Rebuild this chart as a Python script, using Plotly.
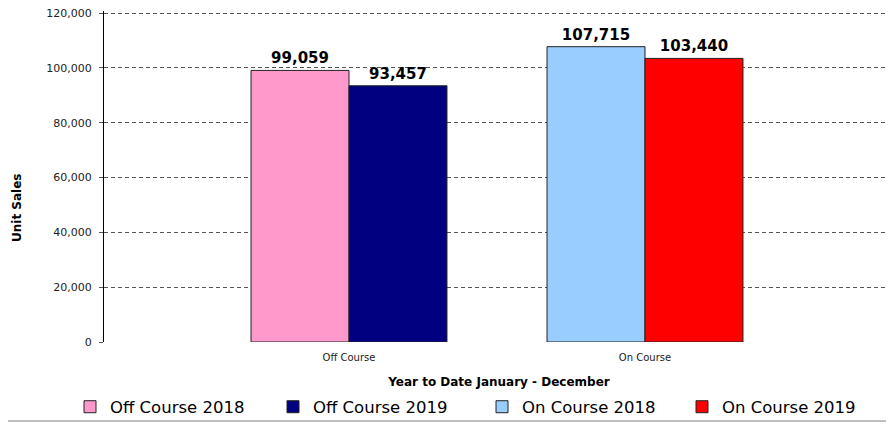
import plotly.graph_objects as go

categories = ["Off Course", "On Course"]
series_names = ["Off Course 2018", "Off Course 2019", "On Course 2018", "On Course 2019"]
series_values = [
    [99059, None],
    [93457, None],
    [None, 107715],
    [None, 103440],
]
series_colors = ["#FF99CC", "#000080", "#99CCFF", "#FF0000"]
y_ticks = [0, 20000, 40000, 60000, 80000, 100000, 120000]
y_ticktext = ["0", "20,000", "40,000", "60,000", "80,000", "100,000", "120,000"]

# the page body has an 8px margin; the figure is sized to fill the rest of the window
OFF = 8
W, H = 894 - OFF, 425 - OFF
# plot area edges in window pixels (top edge 2px above the 120,000 line)
PL, PR, PT, PB = 104, 894, 11, 342
L, R, T, B = PL - OFF, 894 - PR, PT - OFF, 425 - PB
pw, ph = PR - PL, PB - PT
Y_TOP = 120000 * ph / (ph - 2)

def px_x(p):
    return (p - PL) / pw

def px_y(p):
    return (PB - p) / ph

fig = go.Figure()
legend_names = ["legend", "legend2", "legend3", "legend4"]
legend_text_px = [110, 313, 522, 722]
for i, (name, vals, col) in enumerate(zip(series_names, series_values, series_colors)):
    xs = [c for c, v in zip(categories, vals) if v is not None]
    ys = [v for v in vals if v is not None]
    fig.add_trace(go.Bar(
        x=xs, y=ys, name=name,
        marker=dict(color=col, line=dict(color="#222222", width=1)),
        text=[f"{v:,}" for v in ys], textposition="outside",
        textfont=dict(family="DejaVu Sans", size=15, color="black", weight="bold"),
        cliponaxis=False,
        offsetgroup=str(i % 2),
        legend=legend_names[i],
    ))

layout_legends = {}
for i, ln in enumerate(legend_names):
    layout_legends[ln] = dict(
        x=px_x(legend_text_px[i] - 40), y=px_y(407), xanchor="left", yanchor="middle",
        orientation="h", font=dict(family="DejaVu Sans", size=16.5, color="black"),
        bgcolor="rgba(0,0,0,0)", itemwidth=30, tracegroupgap=0,
    )

fig.update_layout(
    width=W, height=H,
    margin=dict(l=L, r=R, t=T, b=B, autoexpand=False),
    paper_bgcolor="white", plot_bgcolor="white",
    barmode="group", bargap=0.338, bargroupgap=0,
    showlegend=True,
    font=dict(family="DejaVu Sans", color="black"),
    **layout_legends,
)
fig.update_xaxes(
    type="category", categoryorder="array", categoryarray=categories,
    range=[(PL - 349) / 296, (PR - 349) / 296],
    showgrid=False, showline=False, ticks="", ticklabelstandoff=8,
    tickfont=dict(family="DejaVu Sans", size=10, color="#222222"),
    title=dict(text="<b>Year to Date January - December</b>",
               font=dict(family="DejaVu Sans", size=12, color="black"), standoff=15),
)
fig.update_yaxes(
    range=[0, Y_TOP], tickvals=y_ticks, ticktext=y_ticktext,
    showgrid=True, gridcolor="#555555", griddash="4px,3px", gridwidth=1,
    zeroline=False, showline=True, linecolor="black", linewidth=1,
    ticks="outside", ticklen=4, tickcolor="#555555", ticklabelstandoff=5,
    ticklabeloverflow="allow",
    tickfont=dict(family="DejaVu Sans", size=11, color="#222222"),
)
fig.add_annotation(text="<b>Unit Sales</b>", xref="paper", yref="paper",
                   x=px_x(17), y=px_y(208), textangle=-90, showarrow=False,
                   xanchor="center", yanchor="middle",
                   font=dict(family="DejaVu Sans", size=12, color="black"))
fig.add_shape(type="line", xref="paper", yref="paper",
              x0=px_x(OFF), x1=px_x(894), y0=px_y(421), y1=px_y(421),
              line=dict(color="#C0C0C0", width=2))

fig.write_html("out.html")
